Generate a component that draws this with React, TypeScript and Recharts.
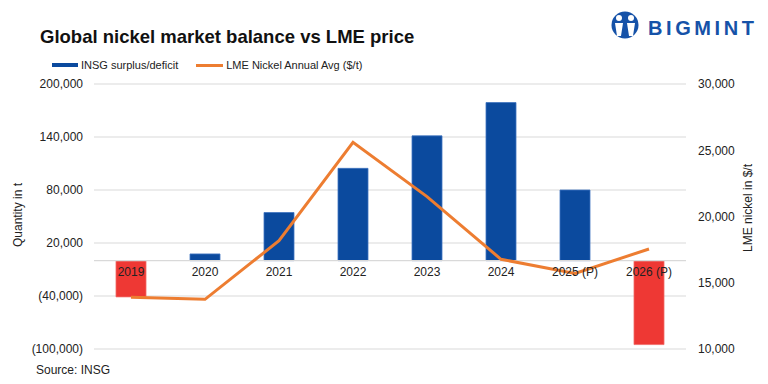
import React from 'react';
import {
  ComposedChart, Bar, Line, XAxis, YAxis, CartesianGrid, ReferenceLine, Cell, LabelList,
} from 'recharts';

const years = ['2019', '2020', '2021', '2022', '2023', '2024', '2025 (P)', '2026 (P)'];
const balance = [-41000, 7600, 54500, 104500, 141300, 179000, 80000, -95000];
const lmePrice = [13900, 13750, 18170, 25600, 21500, 16770, 15700, 17550];
const leftTicks = [-100000, -40000, 20000, 80000, 140000, 200000];
const rightTicks = [10000, 15000, 20000, 25000, 30000];

const data = years.map((year, i) => ({ year, balance: balance[i], lme: lmePrice[i], base: 0 }));

const BLUE = '#0B4A9E';
const RED = '#EE3834';
const ORANGE = '#ED7D31';
const FONT = '"Liberation Sans", Arial, sans-serif';

const fmtLeft = (v: number) => (v < 0 ? `(${Math.abs(v).toLocaleString('en-US')})` : v.toLocaleString('en-US'));
const fmtRight = (v: number) => v.toLocaleString('en-US');

const LegendContent = () => (
  <div style={{ display: 'flex', alignItems: 'center', fontFamily: FONT, fontSize: 11, color: '#222' }}>
    <span style={{ display: 'inline-block', width: 26, height: 4, background: BLUE, marginRight: 3 }} />
    <span style={{ marginRight: 18 }}>INSG surplus/deficit</span>
    <span style={{ display: 'inline-block', width: 27, height: 3, background: ORANGE, marginRight: 3 }} />
    <span>LME Nickel Annual Avg ($/t)</span>
  </div>
);

export default function App() {
  return (
    <div style={{ position: 'absolute', left: 0, top: 0, width: 768, height: 384, background: '#fff', fontFamily: FONT }}>
      <ComposedChart
        width={768}
        height={384}
        data={data}
        margin={{ top: 84, right: 10, bottom: 35, left: 10 }}
      >
        <CartesianGrid yAxisId="left" vertical={false} stroke="#d9d9d9" strokeWidth={1.2} />
        <XAxis dataKey="year" hide height={0} />
        <YAxis
          yAxisId="left"
          orientation="left"
          width={84}
          domain={[-100000, 200000]}
          ticks={leftTicks}
          tickFormatter={fmtLeft}
          axisLine={false}
          tickLine={false}
          tickMargin={5}
          tick={{ fill: '#222', fontSize: 12, fontFamily: FONT }}
          interval={0}
        />
        <YAxis
          yAxisId="right"
          orientation="right"
          width={72}
          domain={[10000, 30000]}
          ticks={rightTicks}
          tickFormatter={fmtRight}
          axisLine={false}
          tickLine={false}
          tickMargin={6}
          tick={{ fill: '#222', fontSize: 12, fontFamily: FONT }}
          interval={0}
        />
        <ReferenceLine yAxisId="left" y={0} stroke="#d9d9d9" strokeWidth={1.2} />
        <Bar yAxisId="left" dataKey="balance" name="INSG surplus/deficit" barSize={30} isAnimationActive={false}>
          {data.map((d, i) => (
            <Cell key={i} fill={d.balance < 0 ? RED : BLUE} stroke={d.balance < 0 ? '#f06a66' : '#3f74c0'} strokeWidth={0.8} />
          ))}
        </Bar>
        <Line
          yAxisId="left"
          dataKey="base"
          stroke="none"
          dot={false}
          activeDot={false}
          legendType="none"
          isAnimationActive={false}
        >
          <LabelList dataKey="year" position="bottom" offset={7} fill="#222" fontSize={12} fontFamily={FONT} />
        </Line>
        <Line
          yAxisId="right"
          dataKey="lme"
          name="LME Nickel Annual Avg ($/t)"
          stroke={ORANGE}
          strokeWidth={3}
          dot={false}
          activeDot={false}
          isAnimationActive={false}
        />
      </ComposedChart>
      <div style={{ position: 'absolute', top: 59, left: 52 }}>
        <LegendContent />
      </div>
      <svg width={768} height={384} style={{ position: 'absolute', left: 0, top: 0, pointerEvents: 'none' }}>
        <text x={40} y={43} fontSize={18.5} fontWeight="bold" fill="#111" fontFamily={FONT}>
          Global nickel market balance vs LME price
        </text>
        <text x={36} y={374} fontSize={12} fill="#222" fontFamily={FONT}>Source: INSG</text>
        <text transform="translate(22,215) rotate(-90)" textAnchor="middle" fontSize={12} fill="#222" fontFamily={FONT}>
          Quantity in t
        </text>
        <text transform="translate(752,208) rotate(-90)" textAnchor="middle" fontSize={12} fill="#222" fontFamily={FONT}>
          LME nickel in $/t
        </text>
        <g>
          <circle cx={625} cy={25} r={13.5} fill="#1652A8" />
          <circle cx={619} cy={18} r={3} fill="#fff" />
          <circle cx={631} cy={18} r={3} fill="#fff" />
          <path d="M615 23 L623 23 L621 36 L617 36 Z" fill="#fff" />
          <path d="M627 23 L635 23 L633 36 L629 36 Z" fill="#fff" />
          <text x={648} y={35} fontSize={20} fontWeight="bold" fill="#1652A8" letterSpacing={3.6} fontFamily={FONT}>BIGMINT</text>
        </g>
      </svg>
    </div>
  );
}
